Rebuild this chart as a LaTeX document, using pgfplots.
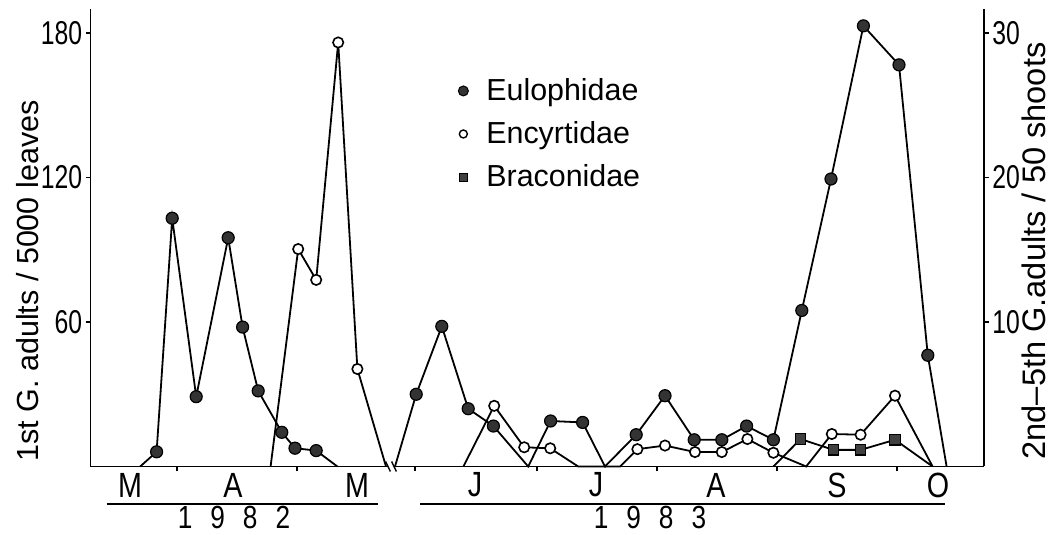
\documentclass[border=0pt]{standalone}
\usepackage{fontspec}
\setmainfont{Liberation Sans}
\newfontfamily\condfont[FakeStretch=0.75]{Liberation Sans}
\newfontfamily\monfont[FakeStretch=0.82]{Liberation Sans}
\usepackage{pgfplots}
\usepackage{pgfplotstable}
\pgfplotsset{compat=1.18}

% x = day of year (approx.), y = adults
\pgfplotstableread{
x y
81.8 0
85.9 6.1
89.8 103.1
95.8 29.0
103.8 95.0
107.4 57.9
111.3 31.4
117.2 14.2
120.5 7.6
125.8 6.6
131.1 0
}\eulA
\pgfplotstableread{
x y
114.4 0
121.3 90.3
125.8 77.5
131.3 176.1
136.1 40.5
143.25 0
}\encA
\pgfplotstableread{
x y
147.0 0
152.3 5.0
158.7 9.7
165.3 4.0
171.6 2.8
180.3 0
185.9 3.15
193.9 3.05
199.5 0
207.3 2.2
214.5 4.9
221.8 1.85
228.7 1.85
234.9 2.8
241.6 1.85
248.7 10.8
256.0 19.9
264.1 30.5
273.0 27.8
280.2 7.7
284.9 0
}\eulB
\pgfplotstableread{
x y
164.1 0
171.8 4.2
179.3 1.33
185.8 1.26
192.8 0
203.3 0
207.6 1.2
214.5 1.45
222.0 1.0
228.7 1.0
235.1 1.9
241.6 0.95
249.8 0
256.2 2.25
263.4 2.2
272.0 4.9
281.4 0
}\encB
\pgfplotstableread{
x y
241.6 0
248.4 1.9
256.6 1.15
263.4 1.15
272.0 1.85
281.4 0
}\braB

\pgfplotsset{
  eul/.style={black, line width=0.9pt, mark=*, mark size=3pt,
    mark options={fill=black!80, draw=black, line width=0.6pt}},
  enc/.style={black, line width=0.9pt, mark=*, mark size=2.6pt,
    mark options={fill=white, draw=black, line width=0.8pt}},
  bra/.style={black, line width=0.9pt, mark=square*, mark size=2.6pt,
    mark options={fill=black!75, draw=black, line width=0.6pt}},
  base/.style={
    scale only axis, height=228.75pt, ymin=0,
    axis x line*=bottom, axis line style={-, line width=0.9pt},
    tick align=outside, major tick length=2.5pt,
    tick style={black, line width=0.9pt},
    xticklabels={}, clip=false,
    /pgf/number format/assume math mode=true,
    yticklabel style={font=\condfont\fontsize{16.5pt}{16.5pt}\selectfont, inner sep=1.5pt},
  },
}
\tikzset{mon/.style={font=\monfont\fontsize{17.5pt}{17.5pt}\selectfont, inner sep=0pt}}

\begin{document}
\begin{tikzpicture}
% ---------------- 1982 ----------------
\begin{axis}[base, at={(0pt,0pt)}, anchor=south west,
  width=148.75pt, xmin=69.375, xmax=143.75, ymax=190,
  axis y line*=left, xtick={91,121}, ytick={60,120,180}]
\addplot[eul, mark indices={2,3,4,5,6,7,8,9,10}] table {\eulA};
\addplot[enc, mark indices={2,3,4,5}] table {\encA};
\node[mon] at ([yshift=-9.25pt]axis cs:79.25,0) {M};
\node[mon] at ([yshift=-9.25pt]axis cs:105,0) {A};
\node[mon] at ([yshift=-9.25pt]axis cs:136,0) {M};
\draw[line width=0.9pt] ([yshift=-18.75pt]axis cs:73.4,0) -- ([yshift=-18.75pt]axis cs:141.25,0);
\node[mon, font=\monfont\fontsize{16pt}{16pt}\selectfont] at ([yshift=-25.25pt]axis cs:105.25,0) {1\hspace{9pt}9\hspace{9pt}8\hspace{9pt}2};
\draw[line width=0.7pt] ([xshift=-1.2pt,yshift=2.5pt]axis cs:143.75,0) -- ([xshift=1.2pt,yshift=-2.5pt]axis cs:143.75,0);
\end{axis}
% ---------------- 1983 ----------------
\begin{axis}[base, at={(151.75pt,0pt)}, anchor=south west,
  width=295pt, xmin=146.75, xmax=294.25, ymax=31.667,
  axis y line*=right, xtick={152,182.4,212.4,242.4,272.4}, ytick={10,20,30},
  legend style={at={(0.1084,0.7268)}, anchor=west, draw=none, fill=none,
    inner sep=0pt, row sep=5pt, column sep=7pt,
    font=\fontsize{15.2pt}{18pt}\selectfont},
  legend cell align=left]
\addlegendimage{only marks, mark=*, mark size=2.5pt, mark options={fill=black!80, draw=black, line width=0.5pt}}
\addlegendentry{Eulophidae}
\addlegendimage{only marks, mark=*, mark size=2pt, mark options={fill=white, draw=black, line width=0.7pt}}
\addlegendentry{Encyrtidae}
\addlegendimage{only marks, mark=square*, mark size=2pt, mark options={fill=black!75, draw=black, line width=0.5pt}}
\addlegendentry{Braconidae}
\addplot[eul, forget plot, mark indices={2,3,4,5,7,8,10,11,12,13,14,15,16,17,18,19,20}] table {\eulB};
\addplot[enc, forget plot, mark indices={2,3,4,7,8,9,10,11,12,14,15,16}] table {\encB};
\addplot[bra, forget plot, mark indices={2,3,4,5}] table {\braB};
\node[mon] at ([yshift=-9.25pt]axis cs:167,0) {J};
\node[mon] at ([yshift=-9.25pt]axis cs:197.25,0) {J};
\node[mon] at ([yshift=-9.25pt]axis cs:227.25,0) {A};
\node[mon] at ([yshift=-9.25pt]axis cs:257.5,0) {S};
\node[mon] at ([yshift=-9.25pt]axis cs:282.75,0) {O};
\draw[line width=0.9pt] ([yshift=-18.75pt]axis cs:153.25,0) -- ([yshift=-18.75pt]axis cs:284.5,0);
\node[mon, font=\monfont\fontsize{16pt}{16pt}\selectfont] at ([yshift=-25.25pt]axis cs:210.75,0) {1\hspace{9pt}9\hspace{9pt}8\hspace{9pt}3};
\draw[line width=0.7pt] ([xshift=-1.2pt,yshift=2.5pt]axis cs:146.75,0) -- ([xshift=1.2pt,yshift=-2.5pt]axis cs:146.75,0);
\end{axis}
% axis titles
\node[rotate=90, font=\fontsize{15.25pt}{15.25pt}\selectfont, inner sep=0pt] at (-31.25pt,92.75pt) {1st G. adults / 5000 leaves};
\node[rotate=90, font=\fontsize{16.3pt}{16.3pt}\selectfont, inner sep=0pt] at (471.75pt,107.75pt) {2nd--5th G.adults / 50 shoots};
\pgfresetboundingbox
\useasboundingbox (-45.25pt,-34.25pt) rectangle (482.25pt,233.25pt);
\end{tikzpicture}
\end{document}
